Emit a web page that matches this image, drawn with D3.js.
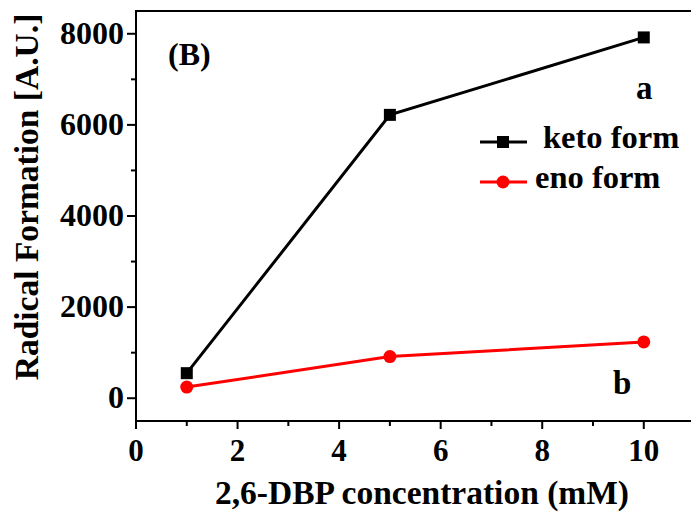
<!doctype html>
<html lang="en">
<head>
<meta charset="utf-8">
<title>Radical formation</title>
<style>
  body { margin: 0; background: #fff; }
  text { font-family: "Liberation Serif", "Times New Roman", serif; font-weight: bold; }
</style>
</head>
<body>
<script src="https://d3js.org/d3.v7.min.js"></script>
<script>
// data
var concentrations = [1, 5, 10];
var ketoValues = [550, 6220, 7920];
var enoValues = [245, 915, 1235];
var xTicks = [0, 2, 4, 6, 8, 10];
var yTicks = [0, 2000, 4000, 6000, 8000];

var w = 691, h = 512;
var mLeft = 136, mRight = 691, mTop = 11, mBottom = 421;

var svg = d3.select("body").append("svg")
  .attr("width", w).attr("height", h);

var x = d3.scaleLinear().domain([0, 10.93]).range([mLeft, mRight]);
var y = d3.scaleLinear().domain([-500, 8500]).range([mBottom, mTop]);

// frame (left + top, right side is cut off)
svg.append("path")
  .attr("d", "M" + mLeft + "," + mBottom + "V" + mTop + "H" + (mRight + 2))
  .attr("fill", "none").attr("stroke", "#000").attr("stroke-width", 2);

// x axis
var xAxis = svg.append("g").attr("transform", "translate(0," + mBottom + ")");
xAxis.append("line").attr("x1", mLeft).attr("x2", mRight)
  .attr("stroke", "#000").attr("stroke-width", 2);
d3.range(0, 11, 1).forEach(function(v) {
  xAxis.append("line")
    .attr("x1", x(v)).attr("x2", x(v))
    .attr("y1", 0).attr("y2", v % 2 === 0 ? 8 : 5)
    .attr("stroke", "#000").attr("stroke-width", 2);
});
xAxis.selectAll("text").data(xTicks).enter().append("text")
  .attr("x", function(d) { return x(d); })
  .attr("y", 40)
  .attr("text-anchor", "middle")
  .attr("font-size", 31)
  .text(function(d) { return d; });

// y axis
var yAxis = svg.append("g");
d3.range(0, 8001, 1000).forEach(function(v) {
  yAxis.append("line")
    .attr("x1", mLeft).attr("x2", mLeft - (v % 2000 === 0 ? 9 : 5))
    .attr("y1", y(v)).attr("y2", y(v))
    .attr("stroke", "#000").attr("stroke-width", 2);
});
yAxis.selectAll("text").data(yTicks).enter().append("text")
  .attr("x", mLeft - 12)
  .attr("y", function(d) { return y(d) + 10; })
  .attr("text-anchor", "end")
  .attr("font-size", 32)
  .text(function(d) { return d; });

// axis titles
svg.append("text")
  .attr("x", 422).attr("y", 504)
  .attr("text-anchor", "middle")
  .attr("font-size", 33.5)
  .text("2,6-DBP concentration (mM)");
svg.append("text")
  .attr("transform", "translate(38,197) rotate(-90)")
  .attr("text-anchor", "middle")
  .attr("font-size", 33.5)
  .text("Radical Formation [A.U.]");

// series
var line = d3.line()
  .x(function(d) { return x(d[0]); })
  .y(function(d) { return y(d[1]); });

var keto = d3.zip(concentrations, ketoValues);
var eno = d3.zip(concentrations, enoValues);

svg.append("path").datum(keto).attr("d", line)
  .attr("fill", "none").attr("stroke", "#000").attr("stroke-width", 3);
svg.append("path").datum(eno).attr("d", line)
  .attr("fill", "none").attr("stroke", "#ff0000").attr("stroke-width", 3);

svg.selectAll("rect.keto").data(keto).enter().append("rect")
  .attr("class", "keto")
  .attr("x", function(d) { return x(d[0]) - 6; })
  .attr("y", function(d) { return y(d[1]) - 6; })
  .attr("width", 12).attr("height", 12)
  .attr("fill", "#000");
svg.selectAll("circle.eno").data(eno).enter().append("circle")
  .attr("class", "eno")
  .attr("cx", function(d) { return x(d[0]); })
  .attr("cy", function(d) { return y(d[1]); })
  .attr("r", 6.5)
  .attr("fill", "#ff0000");

// legend
var lg = svg.append("g");
lg.append("line").attr("x1", 480).attr("x2", 527).attr("y1", 142).attr("y2", 142)
  .attr("stroke", "#000").attr("stroke-width", 3);
lg.append("rect").attr("x", 497).attr("y", 136).attr("width", 12).attr("height", 12).attr("fill", "#000");
lg.append("text").attr("x", 543).attr("y", 148).attr("font-size", 32.5).text("keto form");
lg.append("line").attr("x1", 480).attr("x2", 527).attr("y1", 182).attr("y2", 182)
  .attr("stroke", "#ff0000").attr("stroke-width", 3);
lg.append("circle").attr("cx", 503).attr("cy", 182).attr("r", 6.5).attr("fill", "#ff0000");
lg.append("text").attr("x", 535).attr("y", 188).attr("font-size", 32.5).text("eno form");

// annotations
svg.append("text").attr("x", 168).attr("y", 65).attr("font-size", 32).text("(B)");
svg.append("text").attr("x", 636).attr("y", 99).attr("font-size", 33).text("a");
svg.append("text").attr("x", 613).attr("y", 394).attr("font-size", 33).text("b");
</script>
</body>
</html>
